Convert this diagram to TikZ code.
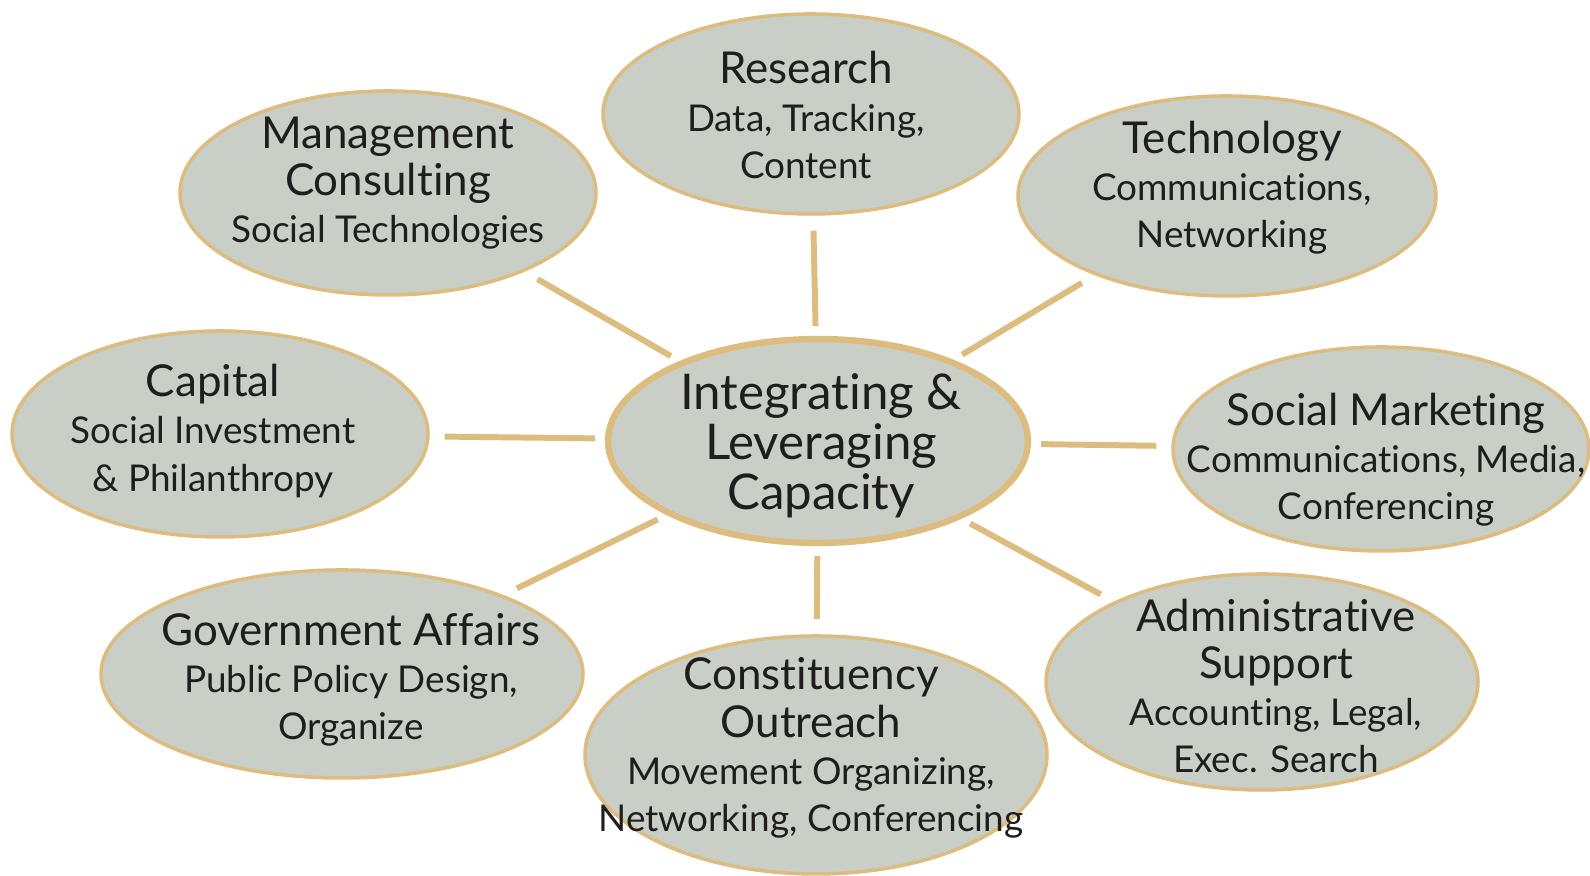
\documentclass[tikz,border=0pt]{standalone}
\usepackage{fontspec}
\setmainfont[Ligatures=NoCommon]{Lato}
\usetikzlibrary{shapes.geometric}

\definecolor{sage}{RGB}{201,206,198}
\definecolor{tan}{RGB}{221,188,128}
\definecolor{ink}{RGB}{30,30,28}

\newcommand{\hdsz}{\fontsize{12.5}{13.4}\selectfont}
\newcommand{\sbsz}{\fontsize{10.5}{13.4}\selectfont}

\begin{document}
\begin{tikzpicture}

        \useasboundingbox (0,0) rectangle (15.9,8.76);

        % the ellipses
        \begin{scope}[every node/.style={ellipse, draw=tan, fill=sage, line width=1pt, inner sep=0pt}]
          \node[minimum width=4.16cm, minimum height=2.00cm] (research) at (8.11,7.62) {};
          \node[minimum width=4.16cm, minimum height=2.04cm] (mgmt)     at (3.88,6.83) {};
          \node[minimum width=4.18cm, minimum height=2.00cm] (tech)     at (12.27,6.80) {};
          \node[minimum width=4.16cm, minimum height=2.06cm] (capital)  at (2.20,4.42) {};
          \node[minimum width=4.20cm, minimum height=2.04cm, line width=1.8pt] (hub) at (8.18,4.35) {};
          \node[minimum width=4.16cm, minimum height=2.04cm] (social)   at (13.81,4.27) {};
          \node[minimum width=4.82cm, minimum height=2.08cm] (gov)      at (3.42,2.02) {};
          \node[minimum width=4.62cm, minimum height=2.38cm] (outreach) at (8.16,1.21) {};
          \node[minimum width=4.32cm, minimum height=2.16cm] (admin)    at (12.62,1.94) {};
        \end{scope}

        % the texts
        \begin{scope}[every node/.style={align=center, text=ink, inner sep=0pt, font=\hdsz}]
          \node (research-t) at (8.06,7.61) {Research\\{\sbsz Data, Tracking,}\\{\sbsz Content}};
          \node (mgmt-t)     at (3.88,6.93) {Management\\Consulting\\{\sbsz Social Technologies}};
          \node (tech-t)     at (12.32,6.88) {Technology\\{\sbsz Communications,}\\{\sbsz Networking}};
          \node (capital-t)  at (2.13,4.45) {Capital\\{\sbsz Social Investment}\\{\sbsz \& Philanthropy}};
          \node[font=\fontsize{14}{14.2}\selectfont] (hub-t) at (8.21,4.30) {Integrating \&\\Leveraging\\Capacity};
          \node (social-t)   at (13.86,4.16) {Social Marketing\\{\sbsz Communications, Media,}\\{\sbsz Conferencing}};
          \node (gov-t)      at (3.51,1.96) {Government Affairs\\{\sbsz Public Policy Design,}\\{\sbsz Organize}};
          \node (outreach-t) at (8.11,1.28) {Constituency\\Outreach\\{\sbsz Movement Organizing,}\\{\sbsz Networking, Conferencing}};
          \node (admin-t)    at (12.76,1.90) {Administrative\\Support\\{\sbsz Accounting, Legal,}\\{\sbsz Exec. Search}};
        \end{scope}

        % the spokes
        \begin{scope}[every edge/.style={draw=tan, line width=1.7pt, shorten <=1mm, shorten >=1.5mm}]
          \path (hub) edge (research);
          \path (hub) edge (mgmt);
          \path (hub) edge (tech);
          \path (hub) edge (capital);
          \path (hub) edge (social);
          \path (hub) edge (gov);
          \path (hub) edge (outreach);
          \path (hub) edge (admin);
        \end{scope}

      \end{tikzpicture}
\end{document}
